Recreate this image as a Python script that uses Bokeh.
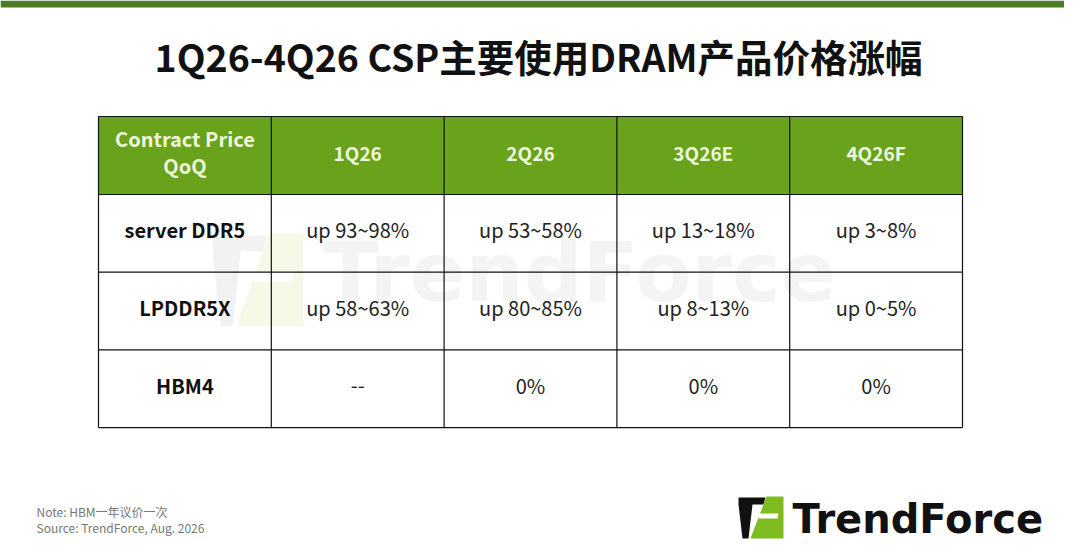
from bokeh.plotting import figure
from bokeh.models import Range1d
from bokeh.core.properties import value
from bokeh.embed import file_html
from bokeh.resources import INLINE

# ---- data ----
title = "1Q26-4Q26 CSP主要使用DRAM产品价格涨幅"
corner = ["Contract Price", "QoQ"]
quarters = ["1Q26", "2Q26", "3Q26E", "4Q26F"]
products = ["server DDR5", "LPDDR5X", "HBM4"]
ddr5 = ["up 93~98%", "up 53~58%", "up 13~18%", "up 3~8%"]
lpddr5x = ["up 58~63%", "up 80~85%", "up 8~13%", "up 0~5%"]
hbm4 = ["--", "0%", "0%", "0%"]
note_lines = ["Note: HBM一年议价一次", "Source: TrendForce, Aug. 2026"]
brand = "TrendForce"

rows = [ddr5, lpddr5x, hbm4]

# ---- layout (reference pixel coordinates) ----
W, H = 1064, 544
p = figure(width=W, height=H, output_backend="svg", toolbar_location=None,
           x_range=Range1d(0, W), y_range=Range1d(H, 0),
           min_border=0, background_fill_color="white", border_fill_color="white")
p.axis.visible = False
p.grid.visible = False
p.outline_line_color = None

CJK = value("Noto Sans CJK SC")
LOGO_FONT = value("DejaVu Sans")

# top bar
p.quad(left=[0], right=[W + 16], top=[0], bottom=[7], color="#4b7c25", line_color=None)

# title
p.text(x=[538], y=[55], text=[title], text_font=CJK, text_font_size="37.5px",
       text_font_style="bold", text_color="#111111", text_align="center",
       text_baseline="middle")

# table geometry
left, col_w = 98, 172.8
top, head_h, row_h = 116, 78, 77.7
ncol = len(quarters) + 1
nrow = len(products)
xs = [left + i * col_w for i in range(ncol + 1)]
ys = [top, top + head_h] + [top + head_h + (i + 1) * row_h for i in range(nrow)]


def logo(ox, oy, sx, sy, dark, green, gap):
    bx = [0, 27, 25, 14, 10, 4, 0]
    by = [1, 1, 8, 8, 42, 42, 8]
    gx = [28, 45, 45, 12]
    gy = [0, 0, 42, 42]
    wx = [21, 40, 39, 20]
    wy = [17, 17, 22, 22]
    p.patch([ox + sx * v for v in bx], [oy + sy * v for v in by], color=dark, line_color=None)
    p.patch([ox + sx * v for v in gx], [oy + sy * v for v in gy], color=green, line_color=None)
    p.patch([ox + sx * v for v in wx], [oy + sy * v for v in wy], color=gap, line_color=None)


# header fill
p.quad(left=[xs[0]], right=[xs[-1]], top=[ys[0]], bottom=[ys[1]],
       color="#68a31b", line_color=None)

# watermark
logo(212, 233, 2.02, 2.2, "#f2f2f2", "#f6f9e8", "white")
p.text(x=[322], y=[272], text=[brand], text_font=LOGO_FONT, text_font_size="82px",
       text_font_style="bold", text_color="#f4f4f4", text_align="left",
       text_baseline="middle")

# grid lines
p.segment(x0=[xs[0]] * len(ys), x1=[xs[-1]] * len(ys), y0=ys, y1=ys,
          line_color="#111111", line_width=1.2)
p.segment(x0=xs, x1=xs, y0=[ys[0]] * len(xs), y1=[ys[-1]] * len(xs),
          line_color="#111111", line_width=1.2)

hdr_col = "#eef7dc"
cx = [(xs[i] + xs[i + 1]) / 2 for i in range(ncol)]
hy = (ys[0] + ys[1]) / 2 - 3
p.text(x=[cx[0], cx[0]], y=[hy - 14, hy + 13], text=corner, text_font=CJK,
       text_font_size="20px", text_font_style="bold", text_color=hdr_col,
       text_align="center", text_baseline="middle")
p.text(x=cx[1:], y=[hy] * len(quarters), text=quarters, text_font=CJK,
       text_font_size="19px", text_font_style="bold", text_color=hdr_col,
       text_align="center", text_baseline="middle")

for r, (name, vals) in enumerate(zip(products, rows)):
    ry = (ys[r + 1] + ys[r + 2]) / 2 - 3.5
    p.text(x=[cx[0]], y=[ry], text=[name], text_font=CJK, text_font_size="20px",
           text_font_style="bold", text_color="#111111", text_align="center",
           text_baseline="middle")
    p.text(x=cx[1:], y=[ry] * len(vals), text=vals, text_font=CJK,
           text_font_size="20px", text_color="#222222", text_align="center",
           text_baseline="middle")

# notes
p.text(x=[36, 36], y=[511, 527], text=note_lines, text_font=CJK, text_font_size="12px",
       text_color="#777777", text_align="left", text_baseline="middle")

# brand logo
logo(738, 496, 1.0, 1.0, "#111111", "#7dbb1f", "white")
p.text(x=[792], y=[518], text=[brand], text_font=LOGO_FONT, text_font_size="40px",
       text_font_style="bold", text_color="#111111", text_align="left",
       text_baseline="middle")

open("out.html", "w").write(file_html(p, INLINE))
